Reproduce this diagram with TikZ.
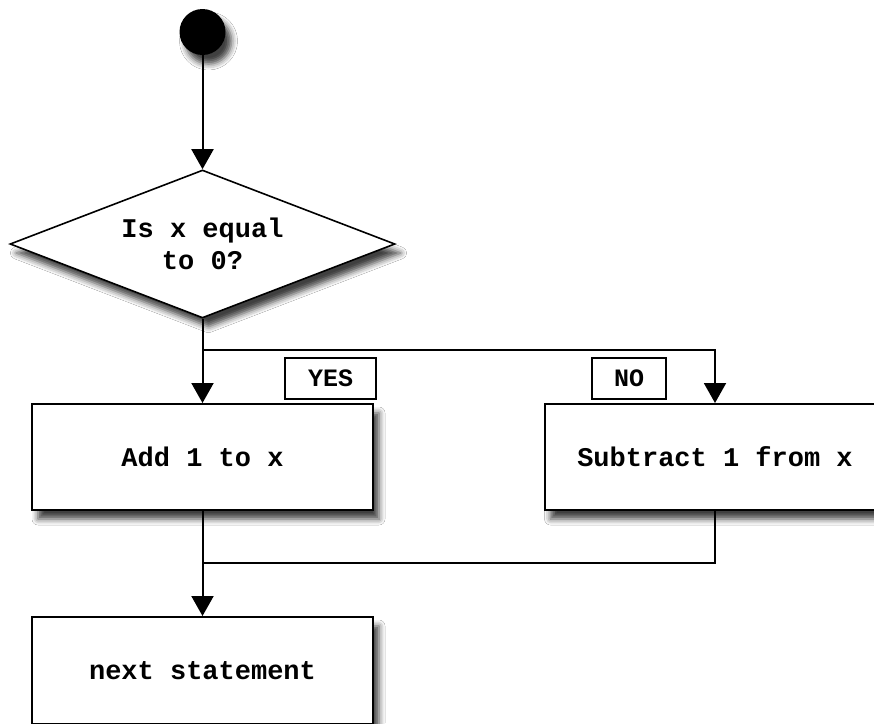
\documentclass[tikz,border=0pt]{standalone}
\usepackage{fontspec}
\setmonofont{Liberation Mono}
\usetikzlibrary{arrows.meta,shapes.geometric,shadows.blur}
\begin{document}
\begin{tikzpicture}[x=1pt,y=-1pt,
  every node/.style={font=\ttfamily\bfseries\fontsize{27}{32}\selectfont},
  shad/.style={blur shadow={shadow xshift=6pt,shadow yshift=-9pt,shadow blur radius=6pt,shadow opacity=75}},
  proc/.style={draw,line width=2pt,fill=white,shad,minimum width=341pt,minimum height=106pt,inner sep=0pt},
  dec/.style={diamond,draw,line width=1.6pt,fill=white,shad,minimum width=385pt,minimum height=148pt,aspect=2.6,inner sep=0pt,align=center},
  lbl/.style={draw,line width=1.8pt,fill=white,minimum height=41pt,inner sep=0pt,font=\ttfamily\bfseries\fontsize{25}{30}\selectfont},
  conn/.style={line width=2pt},
  arr/.style={conn,-{Triangle[width=22pt,length=20pt]}},
  startc/.style={circle,fill=black,minimum size=46pt,inner sep=0pt,shad}
]
\useasboundingbox (0,0) rectangle (874,723);
\fill[white] (0,0) rectangle (874,723);
\clip (0,0) rectangle (874,723);

\node[startc] (start) at (202.5,32) {};
\node[dec] (dec) at (202.5,244) {Is x equal\\to 0?};
\node[proc] (add) at (202.5,457) {Add 1 to x};
\node[proc] (sub) at (715,457) {Subtract 1 from x};
\node[proc,minimum height=107pt] (next) at (202.5,670.5) {next statement};
\node[lbl,minimum width=91pt] (yes) at (330.5,378.5) {YES};
\node[lbl,minimum width=74pt] (no) at (629,378.5) {NO};

\coordinate (split) at (202.5,350);
\coordinate (merge) at (202.5,563);

\draw[arr] (start.south) -- (dec.north);
\draw[arr] (dec.south) -- (add.north);
\draw[arr] (split) -| (sub.north);
\draw[arr] (add.south) -- (next.north);
\draw[conn] (sub.south) |- (merge);
\end{tikzpicture}
\end{document}
